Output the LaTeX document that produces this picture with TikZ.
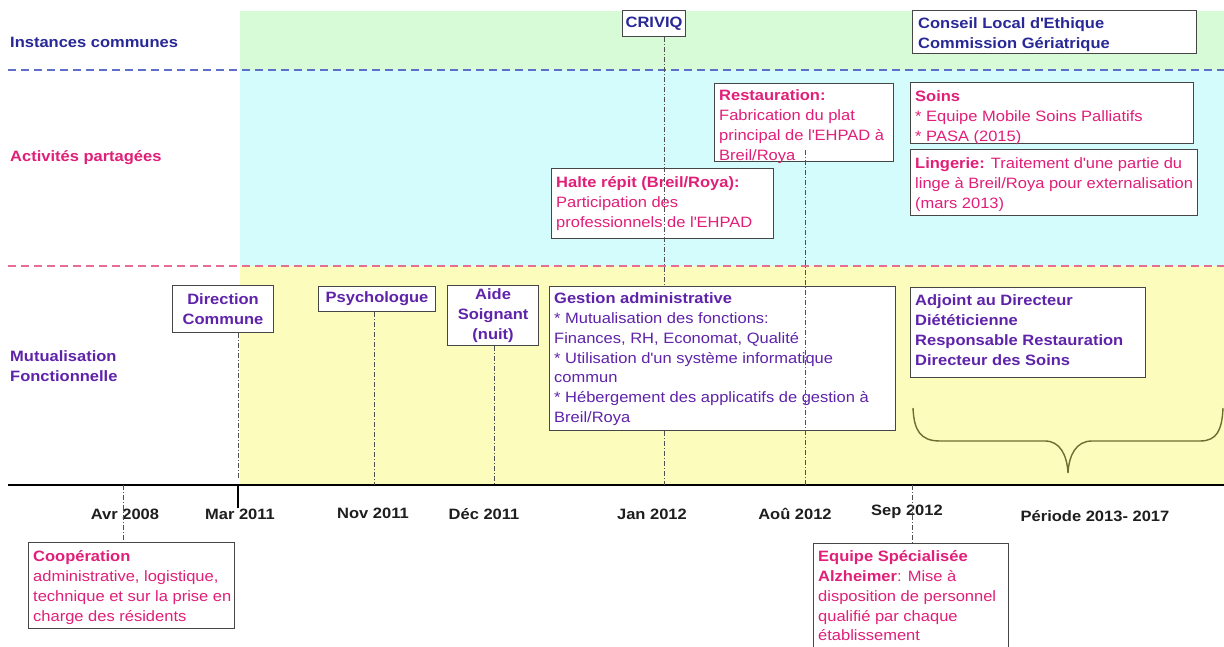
\documentclass[tikz,border=0pt]{standalone}
\usepackage{fontspec}
\setmainfont{Liberation Sans}[FakeStretch=1.1]
\newcommand{\aq}{\textquotesingle}
\definecolor{navy}{RGB}{40,40,150}
\definecolor{pinkc}{RGB}{225,30,120}
\definecolor{purp}{RGB}{95,35,170}
\definecolor{bgG}{RGB}{215,250,215}
\definecolor{bgC}{RGB}{212,252,252}
\definecolor{bgY}{RGB}{252,252,188}
\definecolor{dashB}{RGB}{95,110,200}
\definecolor{dashP}{RGB}{230,110,150}
\definecolor{boxc}{RGB}{70,70,70}
\definecolor{linec}{RGB}{80,80,80}
\definecolor{bracec}{RGB}{110,110,50}
\definecolor{axc}{RGB}{30,30,30}
\tikzset{
  bx/.style={draw=boxc, fill=white, line width=1.1pt, inner sep=0pt, anchor=north west},
  tx/.style={anchor=north west, inner sep=0pt, align=left},
  vline/.style={draw=linec, line width=0.9pt, dash pattern=on 5pt off 2pt on 1pt off 2pt},
  lbl/.style={font=\bfseries, anchor=west, inner sep=0pt, align=left},
  axl/.style={font=\bfseries, text=axc, inner sep=0pt},
}
\begin{document}
\begin{tikzpicture}[x=1pt,y=-1pt]
\fontsize{15}{19.7}\selectfont
\useasboundingbox (0,0) rectangle (1224,647);
\fill[white] (0,0) rectangle (1224,647);
% backgrounds
\fill[bgG] (240,11) rectangle (1224,70);
\fill[bgC] (240,70) rectangle (1224,266);
\fill[bgY] (240,266) rectangle (1224,485);
% separators
\draw[dashB, line width=1.6pt, dash pattern=on 8pt off 5pt] (8,70) -- (1224,70);
\draw[dashP, line width=1.6pt, dash pattern=on 8pt off 5pt] (8,266) -- (1224,266);
% axis
\coordinate (axL) at (8,485);
\coordinate (axR) at (1224,485);
\draw[black, line width=2.2pt] (axL) -- (axR);
% row labels
\node[lbl, text=navy] (lInst) at (10,42) {Instances communes};
\node[lbl, text=pinkc] (lAct) at (10,158) {Activités partagées};
\node[lbl, text=purp] (lMut) at (10,366) {Mutualisation\\Fonctionnelle};
% time coordinates
\coordinate (tAvr) at (123,485);
\coordinate (tMar) at (238,485);
\coordinate (tNov) at (374,485);
\coordinate (tDec) at (494,485);
\coordinate (tJan) at (664,485);
\coordinate (tAou) at (805,485);
\coordinate (tSep) at (912,485);
% axis labels
\node[axl] (aAvr) at (125,514) {Avr 2008};
\node[axl] (aMar) at (240,514) {Mar 2011};
\node[axl] (aNov) at (373,513) {Nov 2011};
\node[axl] (aDec) at (484,514) {Déc 2011};
\node[axl] (aJan) at (652,514) {Jan 2012};
\node[axl] (aAou) at (795,514) {Aoû 2012};
\node[axl] (aSep) at (907,512) {Sep 2012};
\node[axl] (aPer) at (1095,516) {Période 2013- 2017};
% boxes: instances communes
\node[bx, minimum width=63, minimum height=26, font=\bfseries, text=navy] (criviq) at (622,10) {CRIVIQ};
\node[bx, minimum width=284, minimum height=43] (conseil) at (912,10) {};
\node[tx, font=\bfseries, text=navy] (conseilT) at ([shift={(6,5)}]conseil.north west) {\strut Conseil Local d\aq Ethique\\Commission Gériatrique};
% activites partagees
\node[bx, minimum width=179, minimum height=78] (resto) at (714,83) {};
\node[tx, text=pinkc] (restoT) at ([shift={(5,4)}]resto.north west) {\strut\textbf{Restauration:}\\Fabrication du plat\\principal de l\aq EHPAD à\\Breil/Roya};
\node[bx, minimum width=283, minimum height=61] (soins) at (910,82) {};
\node[tx, text=pinkc] (soinsT) at ([shift={(5,6)}]soins.north west) {\strut\textbf{Soins}\\* Equipe Mobile Soins Palliatifs\\* PASA (2015)};
\node[bx, minimum width=287, minimum height=66] (linge) at (910,149) {};
\node[tx, text=pinkc] (lingeT) at ([shift={(5,6)}]linge.north west) {\strut\textbf{Lingerie:} Traitement d\aq une partie du\\linge à Breil/Roya pour externalisation\\(mars 2013)};
\node[bx, minimum width=222, minimum height=70] (halte) at (551,168) {};
\node[tx, text=pinkc] (halteT) at ([shift={(5,6)}]halte.north west) {\strut\textbf{Halte répit (Breil/Roya):}\\Participation des\\professionnels de l\aq EHPAD};
% mutualisation
\node[bx, minimum width=101, minimum height=47, font=\bfseries, text=purp, align=center] (direc) at (172,285) {Direction\\Commune};
\node[bx, minimum width=117, minimum height=25, font=\bfseries, text=purp] (psy) at (318,286) {Psychologue};
\node[bx, minimum width=91, minimum height=60, font=\bfseries, text=purp, align=center] (aide) at (447,285) {Aide\\Soignant\\(nuit)};
\node[bx, minimum width=346, minimum height=144] (gest) at (549,286) {};
\node[tx, text=purp] (gestT) at ([shift={(5,4)}]gest.north west) {\strut\textbf{Gestion administrative}\\* Mutualisation des fonctions:\\Finances, RH, Economat, Qualité\\* Utilisation d\aq un système informatique\\commun\\* Hébergement des applicatifs de gestion à\\Breil/Roya};
\node[bx, minimum width=235, minimum height=90] (adj) at (910,287) {};
\node[tx, font=\bfseries, text=purp] (adjT) at ([shift={(5,5)}]adj.north west) {\strut Adjoint au Directeur\\Diététicienne\\Responsable Restauration\\Directeur des Soins};
% below axis
\node[bx, minimum width=206, minimum height=86] (coop) at (28,542) {};
\node[tx, text=pinkc] (coopT) at ([shift={(5,6)}]coop.north west) {\strut\textbf{Coopération}\\administrative, logistique,\\technique et sur la prise en\\charge des résidents};
\node[bx, minimum width=195, minimum height=115] (equipe) at (813,543) {};
\node[tx, text=pinkc] (equipeT) at ([shift={(5,5)}]equipe.north west) {\strut\textbf{Equipe Spécialisée}\\\textbf{Alzheimer}: Mise à\\disposition de personnel\\qualifié par chaque\\établissement};
% vertical connectors
\draw[vline] (tAvr) -- (coop.north -| tAvr);
\draw[vline] (direc.south -| tMar) -- ([yshift=7pt]tMar);
\draw[black, line width=2pt] ([yshift=-23pt]tMar) -- (tMar);
\draw[vline] (psy.south -| tNov) -- (tNov);
\draw[vline] (aide.south -| tDec) -- (tDec);
\draw[vline] (criviq.south -| tJan) -- (gest.north -| tJan);
\draw[vline] (gest.south -| tJan) -- (tJan);
\draw[vline] ([yshift=12pt]resto.south -| tAou) -- (tAou);
\draw[vline] (tSep) -- (equipe.north -| tSep);
% brace
\coordinate (brL) at (913,408);
\coordinate (brR) at (1223,408);
\coordinate (brTip) at (1068,473);
\draw[bracec, line width=1.4pt] (brL) .. controls (914,430) and (920,441) .. (940,441) -- (1045,441) .. controls (1060,441) and (1067,455) .. (brTip) .. controls (1069,455) and (1076,441) .. (1092,441) -- (1200,441) .. controls (1217,441) and (1222,430) .. (brR);
\end{tikzpicture}
\end{document}
